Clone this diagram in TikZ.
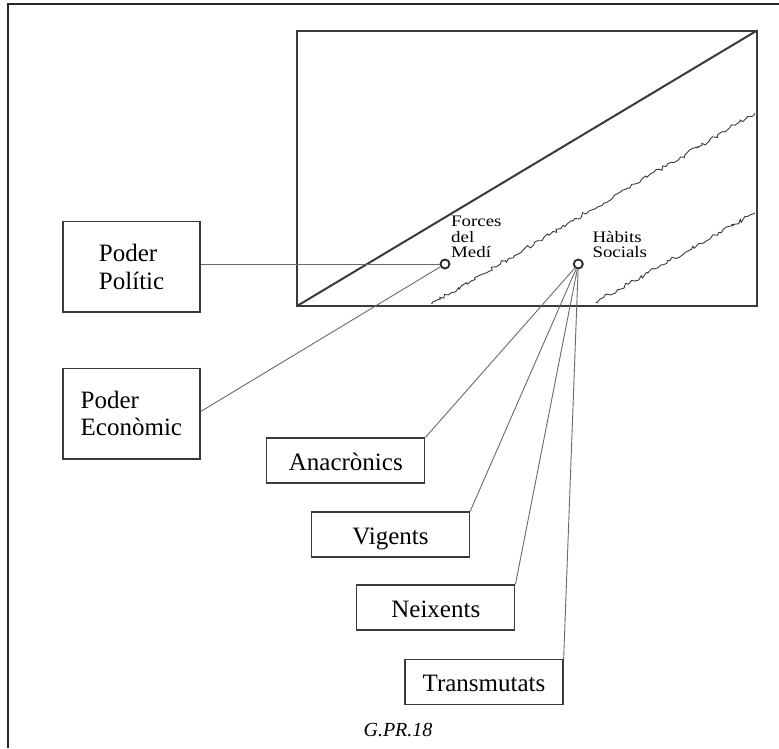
\documentclass[tikz,border=0pt]{standalone}
\usepackage{fontspec}
\setmainfont{Liberation Serif}
\newfontfamily\widefont[FakeStretch=1.18]{Liberation Serif}
\usetikzlibrary{decorations.pathmorphing}
\definecolor{ink}{HTML}{3A3A3A}
\definecolor{thin}{HTML}{6A6A6A}
\tikzset{
  bigbox/.style={draw=ink, line width=1.3pt, inner sep=0pt, align=left,
    font=\fontsize{25}{27.6}\selectfont},
  onebox/.style={bigbox, minimum height=45pt, minimum width=158pt,
    text height=19pt, text depth=0pt},
  twobox/.style={bigbox, minimum width=137pt, minimum height=90.5pt},
  dot/.style={circle, draw=black!85, line width=1.8pt, fill=white,
    minimum size=9pt, inner sep=0pt},
  smalllab/.style={anchor=base west, inner sep=0pt,
    font=\widefont\fontsize{16}{15.5}\selectfont},
  link/.style={draw=thin, line width=0.9pt},
  scribble/.style={draw=ink, line width=0.9pt, decorate,
    decoration={random steps, segment length=3pt, amplitude=2pt}}
}
\begin{document}
\begin{tikzpicture}[x=1pt, y=-1pt]
\pgfmathsetseed{18}
\useasboundingbox (0,0) rectangle (779,748);
% outer frame
\draw[line width=2pt, black!85] (7.5,748) -- (7.5,3.8) -- (779,3.8);
% main rectangle and diagonal
\coordinate (rbl) at (297,306);
\coordinate (rtr) at (757,30.5);
\draw[ink, line width=2pt] (rbl) rectangle (rtr);
\draw[ink, line width=2pt] (rbl) -- (rtr);
% scribbled lines
\coordinate (s1a) at (431.5,304);
\coordinate (s1b) at (755,113.5);
\coordinate (s2a) at (595.5,302);
\coordinate (s2b) at (755,213);
\draw[scribble] (s1a) -- (s1b);
\draw[scribble] (s2a) -- (s2b);
% boxes
\node[twobox] (pp) at (131.6,266.7) {Poder\\Polític};
\node[twobox] (pe) at (131.4,413.6) {Poder\\Econòmic};
\node[onebox] (ana) at (345.8,460.5) {Anacrònics};
\node[onebox] (vig) at (390.5,534.5) {Vigents};
\node[onebox] (nei) at (435.8,607.5) {Neixents};
\node[onebox] (tra) at (484.0,682.2) {Transmutats};
% points
\node[dot] (fm) at (445,264) {};
\node[dot] (hs) at (578.3,264) {};
% small labels
\node[smalllab] (fm1) at (451,226.7) {Forces};
\node[smalllab] (fm2) at (451,242.3) {del};
\node[smalllab] (fm3) at (451,257.7) {Medí};
\node[smalllab] (hs1) at (592.3,242) {Hàbits};
\node[smalllab] (hs2) at (592.3,257.7) {Socials};
% connectors
\draw[link] (fm -| pp.east) -- (fm);
\draw[link] ([yshift=2pt]pe.east) -- (fm);
\draw[link] (hs) -- (ana.north east);
\draw[link] (hs) -- (vig.north east);
\draw[link] (hs) -- (nei.north east);
\draw[link] (hs) -- (tra.north east);
% caption
\node[anchor=base, inner sep=0pt, font=\itshape\fontsize{20}{24}\selectfont] (cap) at (398,736) {G.PR.18};
\end{tikzpicture}
\end{document}
